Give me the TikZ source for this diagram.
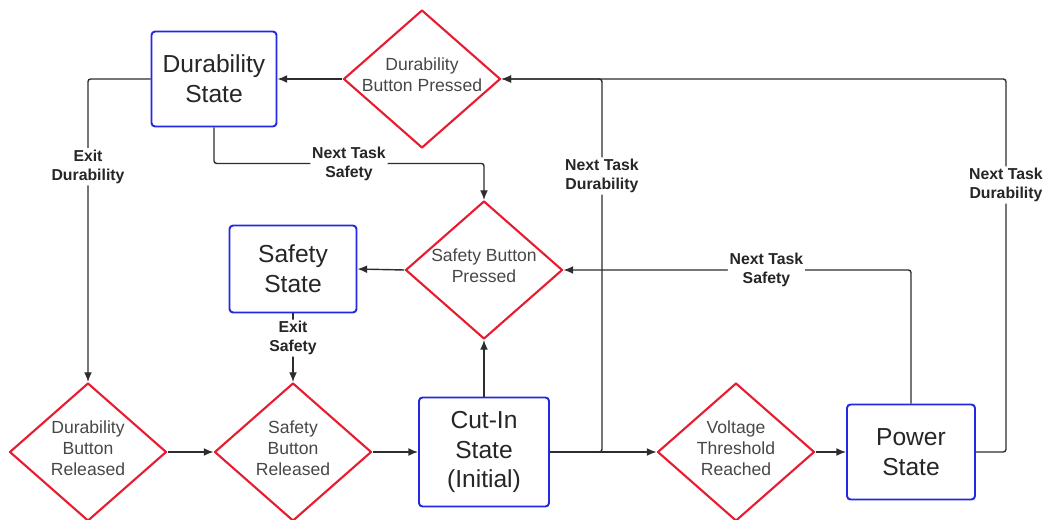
\documentclass[tikz,border=0pt]{standalone}
\usepackage{fontspec}
\setmainfont{Liberation Sans}
\usetikzlibrary{shapes.geometric,arrows.meta}
\definecolor{stateblue}{RGB}{35,40,225}
\definecolor{decred}{RGB}{232,28,48}
\definecolor{flowgray}{RGB}{45,45,45}

\begin{document}
\begin{tikzpicture}[x=0.02cm,y=-0.02cm,
  state/.style={draw=stateblue,line width=1.1pt,rounded corners=2pt,fill=white,align=center,text=black!85,font=\fontsize{14}{17}\selectfont},
  decision/.style={diamond,draw=decred,line width=1.2pt,line join=round,inner sep=0pt,minimum width=3.14cm,minimum height=2.76cm,label={[dtext]center:#1}},
  dtext/.style={align=center,yshift=2.2pt,text=black!72,font=\fontsize{10}{12}\selectfont},
  flow/.style={draw=flowgray,line width=0.8pt,rounded corners=1.5pt,-{Latex[length=5.5pt,width=4.5pt]}},
  elabel/.style={fill=white,inner sep=1pt,align=center,text=black!85,font=\bfseries\fontsize{9}{10.8}\selectfont}]
\useasboundingbox (0,0) rectangle (1045,520);
\node[state,minimum width=2.5cm,minimum height=1.9cm] (ds) at (214,79) {Durability\\State};
\node[decision={Durability\\Button Pressed}] (dbp) at (422,79) {};
\node[state,minimum width=2.54cm,minimum height=1.74cm] (ss) at (293,269) {Safety\\State};
\node[decision={Safety Button\\Pressed}] (sbp) at (484,270) {};
\node[decision={Durability\\Button\\Released}] (dbr) at (88,452) {};
\node[decision={Safety\\Button\\Released}] (sbr) at (293,452) {};
\node[state,minimum width=2.6cm,minimum height=2.18cm] (ci) at (484,452) {Cut-In\\State\\(Initial)};
\node[decision={Voltage\\Threshold\\Reached}] (vtr) at (736,452) {};
\node[state,minimum width=2.56cm,minimum height=1.9cm] (pw) at (911,452) {Power\\State};

\draw[flow] (dbp.west) -- (ds.east);
\draw[flow] (ds.west) -| node[elabel,pos=0.645] {Exit\\Durability} (dbr.north);
\draw[flow] (ds.south) -- ++(0,36) -| node[elabel,pos=0.25] {Next Task\\Safety} (sbp.north);
\draw[flow] (sbp.west) -- (ss.east);
\draw[flow] (ss.south) -- node[elabel,pos=0.36] {Exit\\Safety} (sbr.north);
\draw[flow] (dbr.east) -- (sbr.west);
\draw[flow] (sbr.east) -- (ci.west);
\draw[flow] (ci.north) -- (sbp.south);
\draw[flow] (ci.east) -- (vtr.west);
\draw[flow] (ci.east) -- ++(52,0) |- node[elabel,pos=0.37] {Next Task\\Durability} (dbp.east);
\draw[flow] (vtr.east) -- (pw.west);
\draw[flow] (pw.east) -- ++(30,0) |- node[elabel,pos=0.358] {Next Task\\Durability} (dbp.east);
\draw[flow] (pw.north) |- node[elabel,pos=0.708] {Next Task\\Safety} (sbp.east);
\end{tikzpicture}
\end{document}
